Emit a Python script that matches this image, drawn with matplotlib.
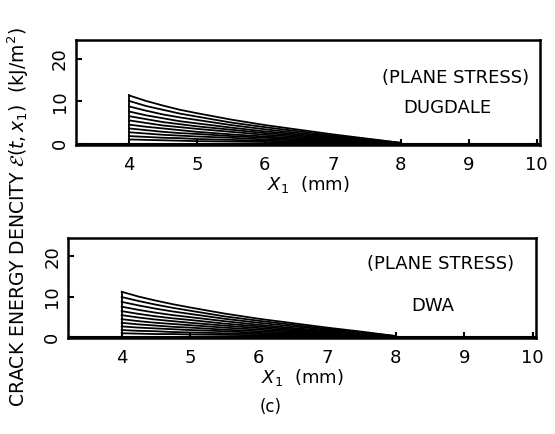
import numpy as np
import matplotlib.pyplot as plt

x_mm = [4.0, 4.25, 4.5, 4.75, 5.0, 5.5, 6.0, 6.5, 7.0, 7.5, 8.0]

# crack energy density (kJ/m^2), one row per time step, top panel (DUGDALE)
dugdale_curves = [
    [11.4, 10.1, 9.0, 8.0, 7.2, 5.7, 4.4, 3.3, 2.2, 1.2, 0.2],
    [10.1, 8.9, 8.0, 7.1, 6.4, 5.0, 3.9, 2.9, 1.9, 1.1, 0.2],
    [8.8, 7.8, 6.9, 6.2, 5.6, 4.4, 3.4, 2.5, 1.7, 0.9, 0.1],
    [7.6, 6.7, 6.0, 5.3, 4.8, 3.8, 2.9, 2.2, 1.5, 0.8, 0.1],
    [6.5, 5.8, 5.1, 4.6, 4.1, 3.3, 2.5, 1.9, 1.2, 0.6, 0.1],
    [5.5, 4.9, 4.3, 3.9, 3.5, 2.8, 2.1, 1.6, 1.0, 0.5, 0.0],
    [4.5, 4.0, 3.6, 3.2, 2.8, 2.2, 1.7, 1.3, 0.8, 0.4, 0.0],
    [3.6, 3.2, 2.8, 2.5, 2.3, 1.8, 1.4, 1.0, 0.6, 0.3, 0.0],
    [2.7, 2.4, 2.1, 1.9, 1.7, 1.4, 1.0, 0.8, 0.5, 0.2, 0.0],
    [1.8, 1.6, 1.4, 1.3, 1.1, 0.9, 0.7, 0.5, 0.3, 0.1, 0.0],
    [1.0, 0.9, 0.8, 0.7, 0.6, 0.5, 0.4, 0.3, 0.2, 0.1, 0.0],
]

# bottom panel (DWA)
dwa_curves = [
    [11.2, 10.0, 9.0, 8.1, 7.3, 5.8, 4.5, 3.4, 2.3, 1.3, 0.2],
    [9.9, 8.9, 8.0, 7.2, 6.5, 5.1, 4.0, 3.0, 2.0, 1.1, 0.2],
    [8.7, 7.8, 7.0, 6.3, 5.7, 4.5, 3.5, 2.6, 1.8, 1.0, 0.1],
    [7.5, 6.7, 6.0, 5.4, 4.9, 3.9, 3.0, 2.2, 1.5, 0.8, 0.1],
    [6.4, 5.7, 5.1, 4.6, 4.2, 3.3, 2.6, 1.9, 1.3, 0.7, 0.1],
    [5.4, 4.8, 4.3, 3.9, 3.5, 2.8, 2.2, 1.6, 1.1, 0.5, 0.0],
    [4.4, 3.9, 3.5, 3.2, 2.9, 2.3, 1.8, 1.3, 0.9, 0.4, 0.0],
    [3.5, 3.1, 2.8, 2.5, 2.3, 1.8, 1.4, 1.0, 0.7, 0.3, 0.0],
    [2.6, 2.3, 2.1, 1.9, 1.7, 1.4, 1.0, 0.8, 0.5, 0.2, 0.0],
    [1.7, 1.5, 1.4, 1.2, 1.1, 0.9, 0.7, 0.5, 0.3, 0.1, 0.0],
    [0.9, 0.8, 0.7, 0.7, 0.6, 0.5, 0.4, 0.3, 0.2, 0.1, 0.0],
]

x_ticks = [4, 5, 6, 7, 8, 9, 10]
y_ticks = [0, 10, 20]


def draw_panel(ax, curves, model_name, stress_xy, model_xy):
    for row in curves:
        ax.plot(x_mm, row, color="black", lw=1.3)
    # vertical edge where the curves start
    ax.plot([x_mm[0], x_mm[0]], [0, curves[0][0]], color="black", lw=1.3)
    ax.axhline(0.0, color="black", lw=1.5)

    ax.set_xlim(3.22, 10.05)
    ax.set_ylim(-0.3, 24.5)
    ax.set_xticks(x_ticks)
    ax.set_yticks(y_ticks)
    ax.set_yticklabels([str(v) for v in y_ticks], rotation=90, va="center")
    ax.tick_params(direction="in", length=4, width=1.5, labelsize=13, pad=8)
    ax.tick_params(axis="y", pad=5)
    for s in ax.spines.values():
        s.set_linewidth(1.8)

    ax.text(*stress_xy, "(PLANE STRESS)", transform=ax.transAxes,
            ha="center", va="center", fontsize=13)
    ax.text(*model_xy, model_name, transform=ax.transAxes,
            ha="center", va="center", fontsize=13)
    ax.set_xlabel(r"$X_{\mathit{1}}$  (mm)", fontsize=13, labelpad=0)


fig = plt.figure(figsize=(5.55, 4.34), dpi=100)
ax_top = fig.add_axes([0.137, 0.666, 0.836, 0.242])
ax_bot = fig.add_axes([0.123, 0.221, 0.843, 0.230])

draw_panel(ax_top, dugdale_curves, "DUGDALE", (0.818, 0.64), (0.80, 0.35))
draw_panel(ax_bot, dwa_curves, "DWA", (0.795, 0.74), (0.78, 0.32))

fig.text(0.033, 0.50,
         r"CRACK ENERGY DENCITY $\mathcal{E}(t,x_{1})$  (kJ/m$^2$)",
         rotation=90, ha="center", va="center", fontsize=13.5)
fig.text(0.487, 0.062, "(c)", ha="center", va="center", fontsize=12)

fig.savefig("out.png", dpi=100)
